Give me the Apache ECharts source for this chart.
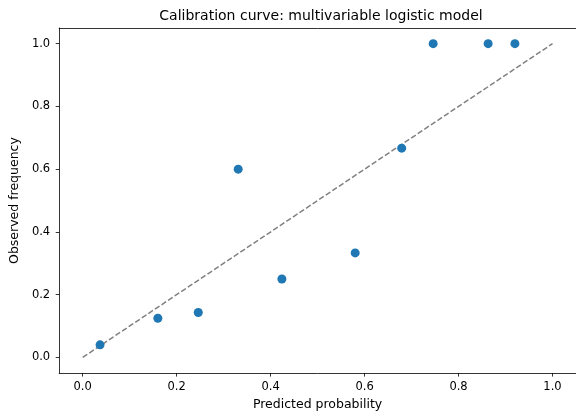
<!DOCTYPE html>
<html>
<head>
<meta charset="utf-8">
<script src="https://cdn.jsdelivr.net/npm/echarts@6/dist/echarts.min.js"></script>
<style>html,body{margin:0;padding:0;background:#fff}#c{width:576px;height:416px}</style>
</head>
<body>
<div id="c"></div>
<script>
const predicted = [0.037, 0.160, 0.246, 0.331, 0.424, 0.580, 0.679, 0.746, 0.863, 0.920];
const observed  = [0.040, 0.125, 0.143, 0.600, 0.250, 0.333, 0.667, 1.000, 1.000, 1.000];
const diagonal = [[0, 0], [1, 1]];
const tickValues = [0, 0.2, 0.4, 0.6, 0.8, 1.0];

const chart = echarts.init(document.getElementById('c'), null, {renderer: 'canvas'});
const font = 'DejaVu Sans';
function axis(extra, margin) {
  return Object.assign({
    type: 'value', min: -0.05, max: 1.05,
    axisLine: {show: true, onZero: false, lineStyle: {color: '#000', width: 0.8}},
    axisTick: {show: true, length: 3.5, inside: false, customValues: tickValues, lineStyle: {color: '#000', width: 0.8}},
    axisLabel: {customValues: tickValues, color: '#000', fontFamily: font, fontSize: 11.5, margin: margin,
      formatter: v => v.toFixed(1)},
    splitLine: {show: false},
    nameLocation: 'middle',
    nameTextStyle: {color: '#000', fontFamily: font, fontSize: 12.5}
  }, extra);
}
chart.setOption({
  animation: false,
  title: {text: 'Calibration curve: multivariable logistic model', left: 316, top: 4, textAlign: 'center',
    textStyle: {color: '#000', fontFamily: font, fontSize: 14, fontWeight: 'normal'}},
  grid: {left: 57.6, top: 28, width: 521, height: 346.7, containLabel: false},
  xAxis: [
    axis({name: 'Predicted probability', nameGap: 24.5}, 8),
    {type: 'value', position: 'top', min: -0.05, max: 1.05,
      axisLine: {show: true, onZero: false, lineStyle: {color: '#000', width: 0.8}},
      axisTick: {show: false}, axisLabel: {show: false}, splitLine: {show: false}}
  ],
  yAxis: axis({name: 'Observed frequency', nameGap: 34}, 9),
  series: [
    {type: 'line', data: diagonal, symbol: 'none', lineStyle: {color: '#808080', width: 1.5, type: [5.5, 2.4]}, z: 1},
    {type: 'scatter', data: predicted.map((p, i) => [p, observed[i]]), symbolSize: 9,
      itemStyle: {color: '#1f77b4', opacity: 1}, z: 2}
  ]
});
</script>
</body>
</html>
